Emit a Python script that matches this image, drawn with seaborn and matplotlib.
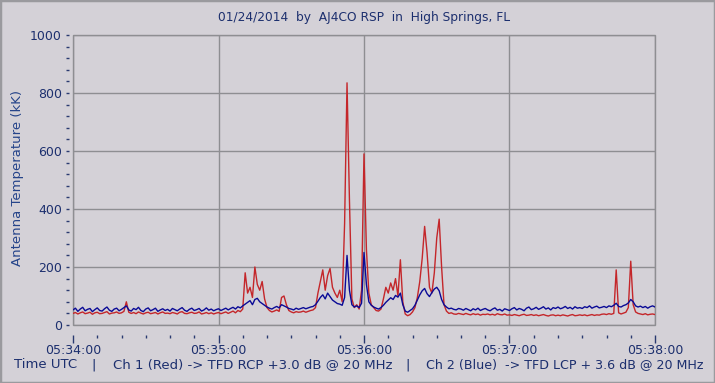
import numpy as np
import pandas as pd
import matplotlib
matplotlib.use("Agg")
import matplotlib.pyplot as plt
import seaborn as sns
from matplotlib.ticker import MultipleLocator
from matplotlib.patches import Rectangle

# ---- data (one sample per second, 05:34:00 .. 05:38:00) ----
seconds = list(range(241))

ch1_red = [
    40, 43, 38, 42, 45, 39, 41, 44, 37, 42,
    44, 39, 40, 43, 46, 38, 41, 42, 45, 40,
    42, 47, 80, 44, 40, 43, 39, 45, 41, 38,
    42, 44, 39, 41, 43, 38, 42, 45, 40, 41,
    39, 43, 41, 38, 44, 46, 40, 39, 42, 44,
    40, 41, 45, 38, 40, 43, 39, 42, 38, 41,
    43, 39, 42, 45, 40, 44, 48, 42, 50, 46,
    55, 180, 110, 130, 95, 200, 140, 120, 150, 90,
    60, 50, 45, 48, 52, 47, 95, 100, 70, 50,
    45, 42, 46, 44, 45, 48, 44, 47, 50, 52,
    60, 110, 150, 190, 120, 170, 195, 130, 110, 95,
    120, 80, 350, 835, 430, 90, 60, 70, 55, 120,
    590, 260, 110, 70, 60, 50, 48, 55, 90, 130,
    110, 145, 120, 160, 100, 225, 80, 38, 32, 36,
    45, 60, 95, 150, 230, 340, 250, 130, 110, 180,
    300, 365, 200, 70, 48, 40, 42, 38, 37, 40,
    38, 36, 40, 37, 35, 39, 36, 38, 34, 37,
    36, 38, 35, 37, 34, 39, 36, 35, 38, 34,
    35, 33, 36, 34, 32, 35, 37, 33, 34, 36,
    33, 35, 32, 34, 36, 33, 31, 34, 35, 32,
    34, 32, 35, 33, 31, 34, 36, 32, 33, 35,
    33, 35, 32, 34, 36, 33, 35, 34, 37, 38,
    36, 39, 37, 40, 190, 42, 38, 41, 44, 60,
    220, 70, 45, 40, 38, 36, 39, 35, 37, 38, 36,
]

ch2_blue = [
    52, 58, 47, 55, 61, 49, 54, 57, 46, 53,
    59, 50, 48, 56, 62, 51, 47, 55, 58, 49,
    54, 60, 66, 52, 48, 57, 53, 61, 50, 46,
    55, 59, 49, 53, 58, 47, 52, 56, 50, 54,
    48, 57, 53, 49, 55, 60, 51, 47, 54, 58,
    50, 53, 57, 48, 52, 59, 51, 55, 49, 53,
    56, 50, 54, 58, 52, 57, 61, 55, 63, 59,
    66, 72, 78, 84, 70, 88, 92, 80, 74, 68,
    62, 58, 55, 60, 64, 59, 70, 66, 62, 57,
    55, 52, 58, 54, 57, 60, 56, 59, 62, 64,
    70, 82, 95, 104, 90, 110, 98, 86, 80, 74,
    72, 68, 95, 240, 120, 70, 62, 66, 60, 75,
    250, 140, 80, 68, 62, 58, 55, 60, 68, 78,
    86, 94, 88, 102, 96, 110, 70, 48, 44, 50,
    56, 68, 86, 104, 118, 126, 108, 98, 112, 124,
    130, 118, 88, 70, 62, 56, 58, 54, 52, 57,
    55, 51, 57, 53, 49, 56, 52, 58, 50, 54,
    57, 52, 49, 55, 59, 51, 54, 48, 56, 53,
    50, 56, 60, 52, 57, 54, 49, 58, 62, 53,
    56, 61, 54, 58, 63, 55, 59, 52, 60, 57,
    62, 56, 59, 64, 57, 61, 55, 63, 58, 60,
    57, 63, 60, 66, 58, 62, 65, 59, 61, 64,
    60, 66, 63, 68, 75, 64, 62, 67, 70, 76,
    88, 80, 66, 62, 65, 60, 64, 58, 63, 66, 62,
]

x_ticks = [0, 60, 120, 180, 240]
x_tick_labels = ["05:34:00", "05:35:00", "05:36:00", "05:37:00", "05:38:00"]
y_ticks = [0, 200, 400, 600, 800, 1000]

title_text = "01/24/2014  by  AJ4CO RSP  in  High Springs, FL"
ylabel_text = "Antenna Temperature (kK)"
footer_parts = ["Time UTC", "|", "Ch 1 (Red) -> TFD RCP +3.0 dB @ 20 MHz", "|",
                "Ch 2 (Blue)  -> TFD LCP + 3.6 dB @ 20 MHz"]

# ---- styling ----
sns.set_style("ticks")
plt.rcParams["font.family"] = ["DejaVu Sans"]

bg = "#d4d1d7"
grid_c = "#8e8e92"
txt_c = "#1c2f6e"
red_c = "#c4262a"
blue_c = "#0a0a96"

W, H = 715, 383
fig = plt.figure(figsize=(W / 100, H / 100), dpi=100, facecolor=bg)
ax = fig.add_axes([73 / W, 1 - 325 / H, 582 / W, 290 / H])
ax.set_facecolor(bg)

df = pd.DataFrame({"t": seconds, "red": ch1_red, "blue": ch2_blue})
sns.lineplot(data=df, x="t", y="red", color=red_c, lw=1, ax=ax, zorder=3)
sns.lineplot(data=df, x="t", y="blue", color=blue_c, lw=1, ax=ax, zorder=4)

ax.set_xlim(0, 240)
ax.set_ylim(0, 1000)
ax.set_xticks(x_ticks)
ax.set_xticklabels(x_tick_labels)
ax.set_yticks(y_ticks)
ax.xaxis.set_minor_locator(MultipleLocator(10))
ax.yaxis.set_minor_locator(MultipleLocator(40))
ax.set_xlabel("")
ax.set_ylabel("")

ax.grid(True, which="major", color=grid_c, lw=1)
ax.set_axisbelow(True)

for s in ["top", "right", "bottom", "left"]:
    ax.spines[s].set_visible(False)
ax.spines["bottom"].set_position(("outward", 7.5))
ax.spines["left"].set_position(("outward", 3))

ax.add_patch(Rectangle((0, 0), 1, 1, transform=ax.transAxes, fill=False,
                       ec=grid_c, lw=1, clip_on=False, zorder=2))

ax.tick_params(axis="x", which="major", direction="out", length=5.5, width=1,
               color="#2a3a70", labelsize=9, labelcolor=txt_c, pad=1)
ax.tick_params(axis="x", which="minor", direction="out", length=2.2, width=1,
               color="#2a3a70")
ax.tick_params(axis="y", which="major", direction="out", length=2, width=1,
               color="#2a3a70", labelsize=9, labelcolor=txt_c, pad=3)
ax.tick_params(axis="y", which="minor", direction="out", length=2, width=1,
               color="#2a3a70")

fig.text(364 / W, 1 - 18 / H, title_text, ha="center", va="center",
         fontsize=8.8, color=txt_c)
fig.text(18 / W, 1 - 178 / H, ylabel_text, ha="center", va="center",
         rotation=90, fontsize=9.5, color="#25448a")

footer_x = [14, 94, 113, 408, 426]
footer_ha = ["left", "center", "left", "center", "left"]
footer_fs = [9.5, 9.5, 9.5, 9.5, 9.1]
for part, xp, ha, fs in zip(footer_parts, footer_x, footer_ha, footer_fs):
    fig.text(xp / W, 1 - 365 / H, part, ha=ha, va="center",
             fontsize=fs, color=txt_c)

fig.patches.append(Rectangle((0, 0), 1, 1, transform=fig.transFigure,
                             fill=False, ec="#9a9a9e", lw=2.5))

fig.savefig("out.png", dpi=100, facecolor=bg)
